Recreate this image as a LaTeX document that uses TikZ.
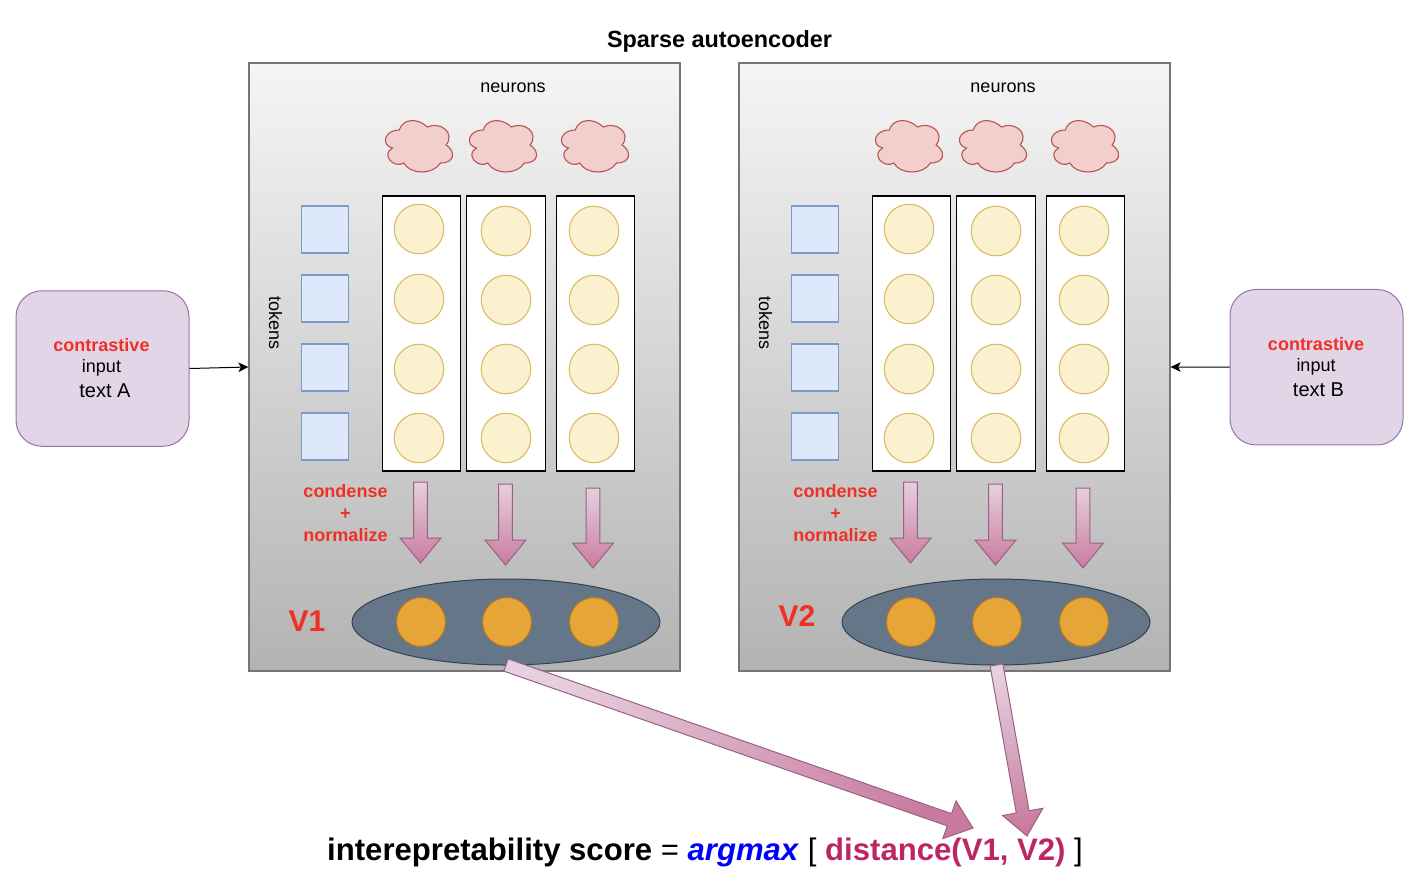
\documentclass[tikz,border=0pt]{standalone}
\usepackage{fontspec}
\setmainfont{Liberation Sans}
\usetikzlibrary{arrows.meta,calc,shapes.geometric}
\definecolor{panelTop}{HTML}{F5F5F5}
\definecolor{panelBot}{HTML}{B3B3B3}
\definecolor{panelLine}{HTML}{757575}
\definecolor{tokFill}{HTML}{DDE8FA}
\definecolor{tokLine}{HTML}{7C9AC9}
\definecolor{neuFill}{HTML}{FCF1CF}
\definecolor{neuLine}{HTML}{D9BC66}
\definecolor{cloudFill}{HTML}{F2CFCC}
\definecolor{cloudLine}{HTML}{B85450}
\definecolor{arrowLight}{HTML}{E6D0DE}
\definecolor{arrowDark}{HTML}{C97B9F}
\definecolor{arrowLine}{HTML}{996185}
\definecolor{ellFill}{HTML}{647687}
\definecolor{ellLine}{HTML}{314354}
\definecolor{orFill}{HTML}{E6A537}
\definecolor{orLine}{HTML}{B9791F}
\definecolor{inFill}{HTML}{E1D5E7}
\definecolor{inLine}{HTML}{9673A6}
\definecolor{redText}{HTML}{F03024}
\definecolor{magText}{HTML}{BD2563}
\newcommand\fsz[1]{\fontsize{#1}{#1}\selectfont}
\tikzset{
  panelbox/.style={draw=panelLine,line width=1.2pt,top color=panelTop,bottom color=panelBot,minimum width=431pt,minimum height=608pt,inner sep=0pt},
  tokbox/.style={draw=tokLine,fill=tokFill,line width=1.1pt,minimum size=47pt,inner sep=0pt},
  colbox/.style={draw=black,fill=white,line width=1.2pt,minimum height=275pt,inner sep=0pt},
  neu/.style={circle,draw=neuLine,fill=neuFill,line width=1.1pt,minimum size=49.5pt,inner sep=0pt},
  orange/.style={circle,draw=orLine,fill=orFill,line width=1pt,minimum size=49pt,inner sep=0pt},
  vec/.style={ellipse,draw=ellLine,fill=ellFill,line width=1pt,minimum width=308pt,minimum height=86pt,inner sep=0pt},
  inbox/.style={draw=inLine,fill=inFill,line width=1pt,rounded corners=26pt,minimum width=173pt,minimum height=155.5pt,inner sep=0pt},
  lab/.style={inner sep=0pt,text=black,font=\fsz{18}},
  redlab/.style={inner sep=0pt,text=redText,font=\fsz{18}\bfseries},
  link/.style={draw=black,line width=1pt,-{Stealth[length=10pt,width=9.5pt,inset=2.5pt]}},
  cloudy/.style={draw=cloudLine,fill=cloudFill,line width=1.1pt}
}
\newcommand\neuroncloud[2]{%
  \begin{scope}[shift={(#1,#2)},x=75pt,y=-60pt]
  \path[cloudy] (.25,.25) .. controls (.05,.25) and (0,.5) .. (.16,.55)
    .. controls (0,.66) and (.18,.9) .. (.31,.8)
    .. controls (.4,1) and (.7,1) .. (.8,.8)
    .. controls (1,.8) and (1,.6) .. (.875,.5)
    .. controls (1,.3) and (.8,.1) .. (.625,.2)
    .. controls (.5,.05) and (.3,.05) .. (.25,.25) -- cycle;
  \end{scope}}
% block arrow: start, tip, half shaft, half head, head length, shading angle
\newcommand\blockarrow[6]{%
  \coordinate (ba) at ($(#2)!#5!(#1)$);
  \path[draw=arrowLine,line width=1pt,top color=arrowDark,bottom color=arrowLight,shading angle=#6]
    ($(#1)!#3!90:(#2)$) -- ($(ba)!#3!90:(#2)$) -- ($(ba)!#4!90:(#2)$) -- (#2)
    -- ($(ba)!#4!-90:(#2)$) -- ($(ba)!#3!-90:(#2)$) -- ($(#1)!#3!-90:(#2)$) -- cycle;}
\newcommand\onepanel[3]{% prefix, xshift, V label y
 \begin{scope}[xshift=#2pt]
  \node[panelbox] (#1panel) at (464.5,367) {};
  \node[lab] (#1neurons) at (513,88) {neurons};
  \node[lab,rotate=-90] (#1tokens) at (275.5,323) {tokens};
  \neuroncloud{380.5}{115}\neuroncloud{464.5}{115}\neuroncloud{556.5}{115}
  \node[tokbox] (#1t1) at (325,229.5) {};
  \node[tokbox] (#1t2) at (325,298.5) {};
  \node[tokbox] (#1t3) at (325,367.5) {};
  \node[tokbox] (#1t4) at (325,436.5) {};
  \node[colbox,minimum width=78.5pt] (#1c1) at (421.5,333.5) {};
  \node[colbox,minimum width=78.5pt] (#1c2) at (506,333.5) {};
  \node[colbox,minimum width=78.5pt] (#1c3) at (595.5,333.5) {};
  \node[neu] (#1n11) at (419,229) {};
  \node[neu] (#1n12) at (419,299) {};
  \node[neu] (#1n13) at (419,369) {};
  \node[neu] (#1n14) at (419,438) {};
  \node[neu] (#1n21) at (506,231) {};
  \node[neu] (#1n22) at (506,300) {};
  \node[neu] (#1n23) at (506,369) {};
  \node[neu] (#1n24) at (506,438) {};
  \node[neu] (#1n31) at (594,231) {};
  \node[neu] (#1n32) at (594,300) {};
  \node[neu] (#1n33) at (594,369) {};
  \node[neu] (#1n34) at (594,438) {};
  \node[redlab] (#1cond) at (345.5,491) {condense};
  \node[redlab] (#1plus) at (345.5,514) {+};
  \node[redlab] (#1norm) at (345.5,535) {normalize};
  \coordinate (#1as1) at (420.5,482); \coordinate (#1at1) at (420.5,563);
  \coordinate (#1as2) at (505.5,484); \coordinate (#1at2) at (505.5,565);
  \coordinate (#1as3) at (593,488);   \coordinate (#1at3) at (593,568);
  \blockarrow{#1as1}{#1at1}{6.8pt}{20.5pt}{25pt}{180}
  \blockarrow{#1as2}{#1at2}{6.8pt}{20.5pt}{25pt}{180}
  \blockarrow{#1as3}{#1at3}{6.8pt}{20.5pt}{25pt}{180}
  \node[vec] (#1vec) at (506,622) {};
  \node[orange] (#1o1) at (421,622) {};
  \node[orange] (#1o2) at (507,622) {};
  \node[orange] (#1o3) at (594,622) {};
  \node[inner sep=0pt,text=redText,font=\fsz{30}\bfseries] (#1vlab) at (307,#3) {\ifnum#2=0 V1\else V2\fi};
 \end{scope}}
\begin{document}
\begin{tikzpicture}[x=1pt,y=-1pt]
\useasboundingbox (0,0) rectangle (1418,884);
\node[inner sep=0pt,font=\fsz{23.4}\bfseries] (title) at (719.5,41) {Sparse autoencoder};
\onepanel{L}{0}{621}
\onepanel{R}{490}{616}
\node[inbox] (boxA) at (102.5,368.5) {};
\node[inbox] (boxB) at (1316.5,367.2) {};
\node[redlab] (contA) at (101.5,345) {contrastive};
\node[lab] (inA) at (101.5,368) {input};
\node[lab,font=\fsz{20}] (txA) at (105,391) {text A};
\node[redlab] (contB) at (1316,344) {contrastive};
\node[lab] (inB) at (1316,367) {input};
\node[lab,font=\fsz{20}] (txB) at (1318.5,390) {text B};
\draw[link] (boxA.east) -- (Lpanel.west);
\draw[link] (boxB.west) -- (Rpanel.east);
\coordinate (s1) at (506,665); \coordinate (e1) at (973,828);
\coordinate (s2) at (996.5,665); \coordinate (e2) at (1027,836);
\blockarrow{s1}{e1}{6.5pt}{20pt}{25pt}{-109.2}
\blockarrow{s2}{e2}{6.5pt}{20.5pt}{24.5pt}{-170}
\node[inner sep=0pt,font=\fsz{31.1}] (score) at (705,852) {\textbf{interepretability score} = \textcolor{blue}{\textbf{\textit{argmax}}} [ \textcolor{magText}{\textbf{distance(V1, V2)}} ]};
\end{tikzpicture}
\end{document}
